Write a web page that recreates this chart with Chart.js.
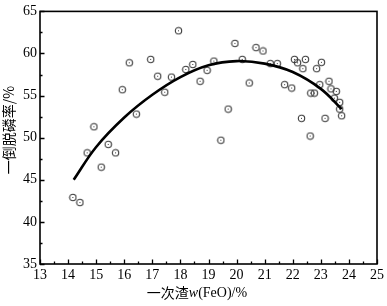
<!DOCTYPE html>
<html>
<head>
<meta charset="utf-8">
<script src="https://cdn.jsdelivr.net/npm/chart.js@4"></script>
<style>
  body { margin: 0; background: #fff; }
  #wrap { width: 387px; height: 306px; }
</style>
</head>
<body>
<div id="wrap"><canvas id="chart" width="387" height="306"></canvas></div>
<script>
// Dados
const feoValues = [14.17, 14.42, 14.68, 14.92, 15.18, 15.43, 15.69, 15.93, 16.18, 16.43,
                   16.94, 17.19, 17.44, 17.68, 17.93, 18.19, 18.44, 18.70, 18.95, 19.19,
                   19.44, 19.70, 19.94, 20.20, 20.45, 20.69, 20.94, 21.20, 21.45, 21.71,
                   21.96, 22.06, 22.17, 22.31, 22.36, 22.45, 22.62, 22.64, 22.77, 22.85,
                   22.96, 23.02, 23.15, 23.29, 23.36, 23.48, 23.55, 23.67, 23.67, 23.74];
const dephosValues = [42.9, 42.3, 48.2, 51.3, 46.5, 49.2, 48.2, 55.7, 58.9, 52.8,
                      59.3, 57.3, 55.4, 57.2, 62.7, 58.1, 58.7, 56.7, 58.0, 59.1,
                      49.7, 53.4, 61.2, 59.3, 56.5, 60.7, 60.3, 58.8, 58.8, 56.3,
                      55.9, 59.3, 58.9, 52.3, 58.2, 59.3, 50.2, 55.3, 55.3, 58.2,
                      56.3, 58.95, 52.3, 56.7, 55.8, 54.7, 55.5, 54.2, 53.4, 52.6];

// Curva de ajuste
const fitX = [14.2, 15, 16, 17, 18, 19, 20, 21, 22, 23, 23.74];
const fitY = [45.0, 48.9, 52.4, 55.1, 57.2, 58.6, 59.1, 58.8, 57.8, 55.8, 53.4];

// Eixos
const xMin = 13, xMax = 25, xStep = 1;
const yMin = 35, yMax = 65, yStep = 5;
const xTitleCjk = '一次渣';
const xTitleVar = 'w';
const xTitleRest = '(FeO)/%';
const yTitle = '一倒脱磷率/%';

// Marcador circular com ponto no centro
function makeMarker() {
    const c = document.createElement('canvas');
    c.width = 9;
    c.height = 9;
    const g = c.getContext('2d');
    g.strokeStyle = '#3a3a3a';
    g.lineWidth = 1.1;
    g.beginPath();
    g.arc(4.5, 4.5, 3.2, 0, Math.PI * 2);
    g.stroke();
    g.fillStyle = '#3a3a3a';
    g.fillRect(4, 4, 1, 1);
    return c;
}

// Moldura, marcas internas e títulos dos eixos
const framePlugin = {
    id: 'frame',
    afterDraw(chart) {
        const ctx = chart.ctx;
        const a = chart.chartArea;
        const xs = chart.scales.x;
        const ys = chart.scales.y;
        ctx.save();
        ctx.strokeStyle = '#000';
        ctx.lineWidth = 1.6;
        ctx.strokeRect(a.left, a.top, a.right - a.left, a.bottom - a.top);

        ctx.lineWidth = 1.3;
        ctx.beginPath();
        for (let v = xMin; v <= xMax + 1e-6; v += xStep / 2) {
            const px = Math.round(xs.getPixelForValue(v)) + 0.5;
            const len = Math.abs(v - Math.round(v)) < 1e-6 ? 4.5 : 2.5;
            ctx.moveTo(px, a.bottom);
            ctx.lineTo(px, a.bottom - len);
        }
        for (let v = yMin; v <= yMax + 1e-6; v += yStep / 2) {
            const py = Math.round(ys.getPixelForValue(v)) + 0.5;
            const len = Math.abs(v / yStep - Math.round(v / yStep)) < 1e-6 ? 4.5 : 2.5;
            ctx.moveTo(a.left, py);
            ctx.lineTo(a.left + len, py);
        }
        ctx.stroke();

        // Título do eixo x
        ctx.fillStyle = '#000';
        ctx.textBaseline = 'middle';
        const cjkFont = '14px "Noto Sans CJK SC"';
        const varFont = 'italic 14px "Liberation Serif"';
        const restFont = '14px "Liberation Serif"';
        ctx.font = cjkFont;
        const w1 = ctx.measureText(xTitleCjk).width;
        ctx.font = varFont;
        const w2 = ctx.measureText(xTitleVar).width;
        ctx.font = restFont;
        const w3 = ctx.measureText(xTitleRest).width;
        let x0 = 197 - (w1 + w2 + w3) / 2;
        const ty = 293;
        ctx.textAlign = 'left';
        ctx.font = cjkFont;
        ctx.fillText(xTitleCjk, x0, ty);
        ctx.font = varFont;
        ctx.fillText(xTitleVar, x0 + w1, ty);
        ctx.font = restFont;
        ctx.fillText(xTitleRest, x0 + w1 + w2, ty);

        // Título do eixo y
        ctx.translate(9, 130);
        ctx.rotate(-Math.PI / 2);
        ctx.textAlign = 'center';
        ctx.font = cjkFont;
        ctx.fillText(yTitle, 0, 0);
        ctx.restore();
    }
};

const tickFont = { family: '"Liberation Serif"', size: 14 };

new Chart(document.getElementById('chart'), {
    type: 'scatter',
    data: {
        datasets: [{
            label: 'dados',
            data: feoValues.map((x, i) => ({ x: x, y: dephosValues[i] })),
            pointStyle: makeMarker(),
            pointRadius: 4,
            order: 1
        }, {
            type: 'line',
            label: 'ajuste',
            data: fitX.map((x, i) => ({ x: x, y: fitY[i] })),
            showLine: true,
            borderColor: '#000',
            borderWidth: 2.6,
            pointRadius: 0,
            tension: 0.4,
            fill: false,
            order: 0
        }]
    },
    options: {
        responsive: false,
        animation: false,
        layout: { padding: { top: 11, right: 8, left: 0, bottom: 0 } },
        plugins: {
            legend: { display: false },
            tooltip: { enabled: false }
        },
        scales: {
            x: {
                type: 'linear',
                min: xMin,
                max: xMax,
                ticks: { stepSize: xStep, color: '#000', font: tickFont, padding: 3, maxRotation: 0 },
                grid: { display: false, drawTicks: false },
                border: { display: false },
                afterFit(s) { s.height = 42; }
            },
            y: {
                min: yMin,
                max: yMax,
                ticks: { stepSize: yStep, color: '#000', font: tickFont, padding: 3 },
                grid: { display: false, drawTicks: false },
                border: { display: false },
                afterFit(s) { s.width = 40; }
            }
        }
    },
    plugins: [framePlugin]
});
</script>
</body>
</html>
